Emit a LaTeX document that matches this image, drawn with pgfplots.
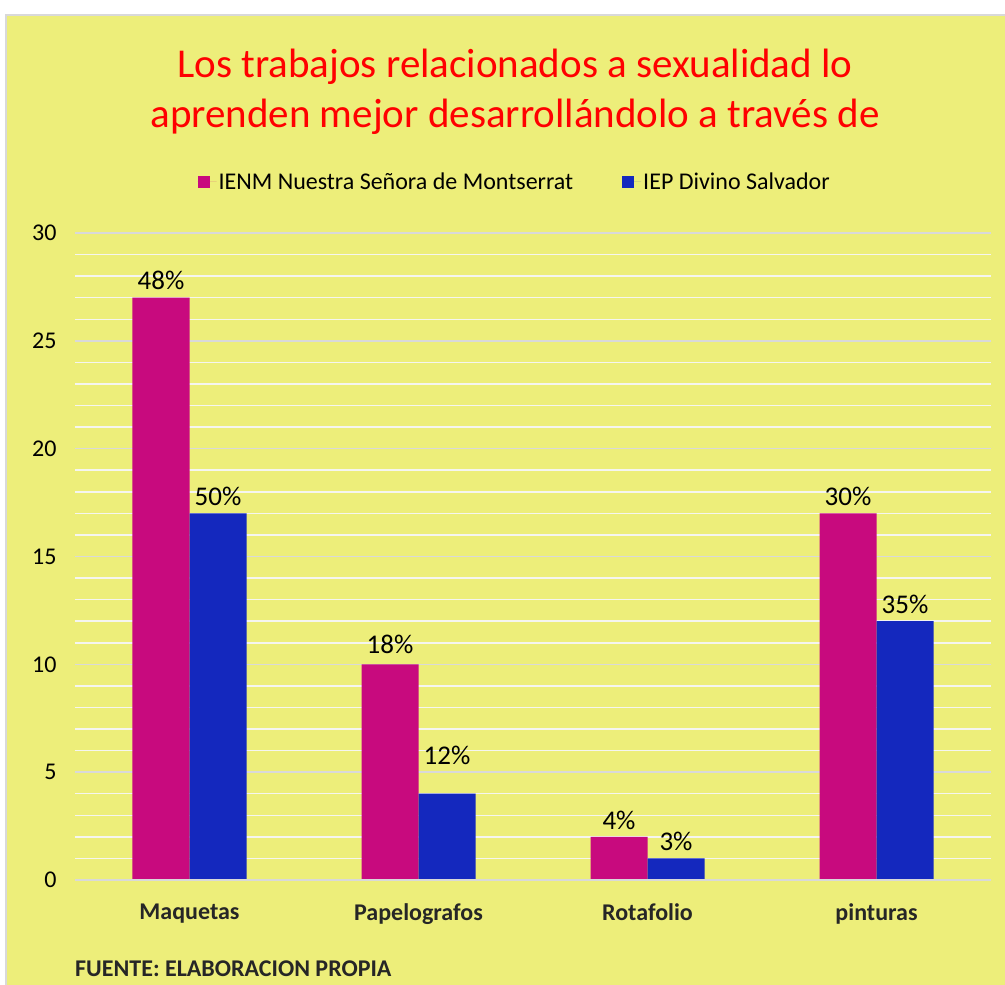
\documentclass[border=0pt]{standalone}
\usepackage{fontspec}
\setmainfont{Carlito}
\usepackage{pgfplots}
\pgfplotsset{compat=1.18}
\definecolor{bgyellow}{RGB}{237,238,122}
\definecolor{barmag}{RGB}{200,10,126}
\definecolor{barblue}{RGB}{20,40,190}
\definecolor{gridgrey}{RGB}{217,217,217}
\definecolor{gridwhite}{RGB}{245,245,240}
\definecolor{darktext}{RGB}{38,38,38}

\begin{document}
\begin{tikzpicture}[x=1pt,y=1pt]
\useasboundingbox (0,0) rectangle (1005,985);
\fill[white] (0,0) rectangle (1005,985);
\fill[bgyellow] (6,0) rectangle (1005,970);
\draw[gridgrey, line width=1.5pt] (6,0) -- (6,970) -- (1005,970);

\begin{axis}[
    at={(75pt,105pt)}, anchor=south west,
    scale only axis,
    width=916pt, height=647pt,
    xmin=-0.5, xmax=3.5,
    ymin=0, ymax=30,
    ybar, bar width=57pt,
    axis line style={draw=none},
    tick style={draw=none},
    xtick={0,1,2,3},
    xticklabels={Maquetas,Papelografos,Rotafolio,pinturas},
    ytick={0,5,...,30},
    minor ytick={1,2,3,4,6,7,8,9,11,12,13,14,16,17,18,19,21,22,23,24,26,27,28,29},
    ymajorgrids, yminorgrids,
    major grid style={gridgrey, line width=1.5pt},
    minor grid style={gridwhite, line width=1.5pt},
    /pgf/number format/assume math mode=true,
    xticklabel style={font=\fontsize{24}{28}\selectfont\bfseries, text=darktext, yshift=-16pt},
    yticklabel style={font=\fontsize{24}{28}\selectfont, text=black, xshift=-15pt},
    nodes near coords,
    point meta=explicit symbolic,
    every node near coord/.append style={font=\fontsize{27}{30}\selectfont, text=black, yshift=4pt},
    legend columns=2,
    legend style={at={(0.48,1.079)}, anchor=center, draw=none, fill=none,
        font=\fontsize{24}{28}\selectfont,
        /tikz/every even column/.append style={column sep=47pt}},
    legend image code/.code={\fill[#1] (0pt,-6pt) rectangle (12pt,6pt);
        \path (0pt,0pt) -- (19pt,0pt);},
]
\addplot[fill=barmag, draw=none, bar shift=-28.5pt] coordinates {
    (0,27) [48\%]
    (1,10) [\raisebox{3pt}{18\%}]
    (2,2)  [4\%]
    (3,17) [30\%]
};
\addlegendentry{IENM Nuestra Señora de Montserrat}
\addplot[fill=barblue, draw=none, bar shift=28.5pt] coordinates {
    (0,17) [50\%]
    (1,4)  [\raisebox{22pt}{12\%}]
    (2,1)  [3\%]
    (3,12) [35\%]
};
\addlegendentry{IEP Divino Salvador}
\draw[gridgrey, line width=1.5pt] (axis cs:-0.5,0) -- (axis cs:3.5,0);
\end{axis}

\node[text=red, align=center, font=\fontsize{41}{50}\selectfont] at (515,893)
    {Los trabajos relacionados a sexualidad lo\\aprenden mejor desarrollándolo a través de};
\node[anchor=base west, inner sep=0pt, text=darktext, font=\fontsize{24}{28}\selectfont\bfseries]
    at (75,8) {FUENTE: ELABORACION PROPIA};
\end{tikzpicture}
\end{document}
